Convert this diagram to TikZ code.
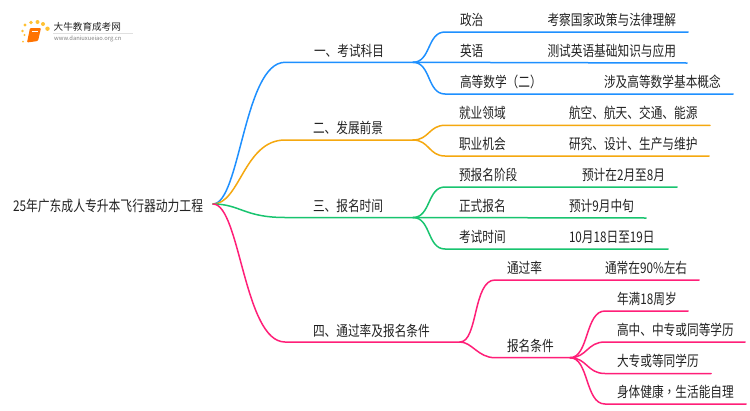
\documentclass[tikz,border=0pt]{standalone}
\usepackage{fontspec}
\setmainfont{Noto Sans CJK SC}
\newfontfamily\narrowcjk[FakeStretch=0.8]{Noto Sans CJK SC}
\newfontfamily\narrowtc[FakeStretch=0.8]{Noto Sans CJK TC}
\usetikzlibrary{calc}
\definecolor{cblue}{HTML}{1E90FF}
\definecolor{corange}{HTML}{F5A80F}
\definecolor{cgreen}{HTML}{18C46F}
\definecolor{cpink}{HTML}{FF1F78}
\definecolor{ctext}{HTML}{222222}
\tikzset{
 lab/.style={anchor=west,inner sep=0pt,outer sep=0pt,text=ctext,font=\narrowcjk\fontsize{14.6}{15}\selectfont},
 conn/.style={line width=1.5pt,line cap=round},
}
\begin{document}
\begin{tikzpicture}[x=1pt,y=-1pt]
\useasboundingbox (0,0) rectangle (750,410);
\fill[white] (0,0) rectangle (750,410);
% logo
\foreach \p/\r in {{25,25}/1.7,{31,22.5}/1.9,{37.5,22}/2,{43,24}/2,{47.5,28.7}/2.2,{22.5,31}/1.3,{24.5,35}/1.2,{23,41.5}/1}
 \fill[orange!60!yellow,opacity=.8] (\p) circle (\r);
\fill[orange!90!red,rounded corners=1pt] (30,28) -- (41,28) -- (38,41) -- (27,42.5) -- cycle;
\draw[white,line width=.6pt] (31.5,31) -- (38,31);
\node[anchor=west,inner sep=0pt,text=ctext,font=\fontsize{9.6}{10}\selectfont] (logoa) at (53.5,27) {大牛教育成考网};
\node[anchor=west,inner sep=0pt,text=gray,font=\fontsize{5.8}{6}\selectfont] (logob) at (54,38.5) {www.daniuxueiao.org.cn};
\draw[black!12,line width=.5pt] (53,33) -- (133,33);
% root
\node[lab,font=\narrowcjk\fontsize{14.75}{15}\selectfont] (root) at (13,206) {25年广东成人专升本飞行器动力工程};
\coordinate (r) at (213,204);
% level 1
\coordinate (a0) at (285,62.3);  \coordinate (a1) at (413,62.3);
\coordinate (b0) at (285,140);   \coordinate (b1) at (413,140);
\coordinate (c0) at (285,217.5); \coordinate (c1) at (413,217.5);
\coordinate (d0) at (285,342);   \coordinate (d1) at (460,342);
\node[lab] (la) at (314,51) {一、考试科目};
\node[lab] (lb) at (313,128) {二、发展前景};
\node[lab] (lc) at (313,206) {三、报名时间};
\node[lab] (ld) at (313,331) {四、通过率及报名条件};
\draw[conn,cblue] (r) .. controls (240,204) and (244,62.3) .. (a0) -- (a1);
\draw[conn,corange] (r) .. controls (240,204) and (244,140) .. (b0) -- (b1);
\draw[conn,cgreen] (r) .. controls (240,204) and (244,217.5) .. (c0) -- (c1);
\draw[conn,cpink] (r) .. controls (240,204) and (244,342) .. (d0) -- (d1);
% blue leaves
\node[lab] (a1t) at (460,20) {政治};
\node[lab] (a1v) at (547.5,20) {考察国家政策与法律理解};
\node[lab] (a2t) at (460,51) {英语};
\node[lab] (a2v) at (547.5,51) {测试英语基础知识与应用};
\node[lab] (a3t) at (460,82) {高等数学{\narrowtc （}二{\narrowtc ）}};
\node[lab] (a3v) at (604,82) {涉及高等数学基本概念};
\coordinate (a1e) at (688,32); \coordinate (a2e) at (687,63); \coordinate (a3e) at (733,94);
\draw[conn,cblue] (a1) .. controls (431,62.3) and (427,32) .. (445,32) -- (a1e);
\draw[conn,cblue] (a1) -- (a2e);
\draw[conn,cblue] (a1) .. controls (431,62.3) and (427,94) .. (445,94) -- (a3e);
% orange leaves
\node[lab] (b1t) at (459,113) {就业领域};
\node[lab] (b1v) at (569,113) {航空、航天、交通、能源};
\node[lab] (b2t) at (459,144) {职业机会};
\node[lab] (b2v) at (569,144) {研究、设计、生产与维护};
\coordinate (b1e) at (710,125.3); \coordinate (b2e) at (709,156);
\draw[conn,corange] (b1) .. controls (429,140) and (429,125.3) .. (445,125.3) -- (b1e);
\draw[conn,corange] (b1) .. controls (429,140) and (429,156) .. (445,156) -- (b2e);
% green leaves
\node[lab] (c1t) at (459,175) {预报名阶段};
\node[lab] (c1v) at (582,175) {预计在2月至8月};
\node[lab] (c2t) at (459,206) {正式报名};
\node[lab] (c2v) at (569,206) {预计9月中旬};
\node[lab] (c3t) at (459,237) {考试时间};
\node[lab] (c3v) at (569,237) {10月18日至19日};
\coordinate (c1e) at (677,187); \coordinate (c2e) at (646,218); \coordinate (c3e) at (668,249);
\draw[conn,cgreen] (c1) .. controls (431,217.5) and (427,187) .. (445,187) -- (c1e);
\draw[conn,cgreen] (c1) -- (c2e);
\draw[conn,cgreen] (c1) .. controls (431,217.5) and (427,249) .. (445,249) -- (c3e);
% pink
\node[lab] (d1t) at (507,268) {通过率};
\node[lab] (d1v) at (605,268) {通常在90\%左右};
\node[lab] (d2t) at (507,346) {报名条件};
\coordinate (d1e) at (699,280); \coordinate (d2m) at (570,357.7);
\draw[conn,cpink] (d1) .. controls (478,342) and (473,280) .. (495,280) -- (d1e);
\draw[conn,cpink] (d1) .. controls (472,342) and (478,357.7) .. (495,357.7) -- (d2m);
\node[lab] (e1) at (617,299) {年满18周岁};
\node[lab] (e2) at (617,330) {高中、中专或同等学历};
\node[lab] (e3) at (617,361) {大专或等同学历};
\node[lab] (e4) at (617,392) {身体健康{\narrowtc ，}生活能自理};
\coordinate (e1e) at (688,311); \coordinate (e2e) at (745,342); \coordinate (e3e) at (711,373.5); \coordinate (e4e) at (746,404);
\draw[conn,cpink] (d2m) .. controls (589,357.7) and (585,311) .. (605,311) -- (e1e);
\draw[conn,cpink] (d2m) .. controls (587,357.7) and (587,342) .. (605,342) -- (e2e);
\draw[conn,cpink] (d2m) .. controls (587,357.7) and (587,373.5) .. (605,373.5) -- (e3e);
\draw[conn,cpink] (d2m) .. controls (589,357.7) and (585,404) .. (605,404) -- (e4e);
\end{tikzpicture}
\end{document}
